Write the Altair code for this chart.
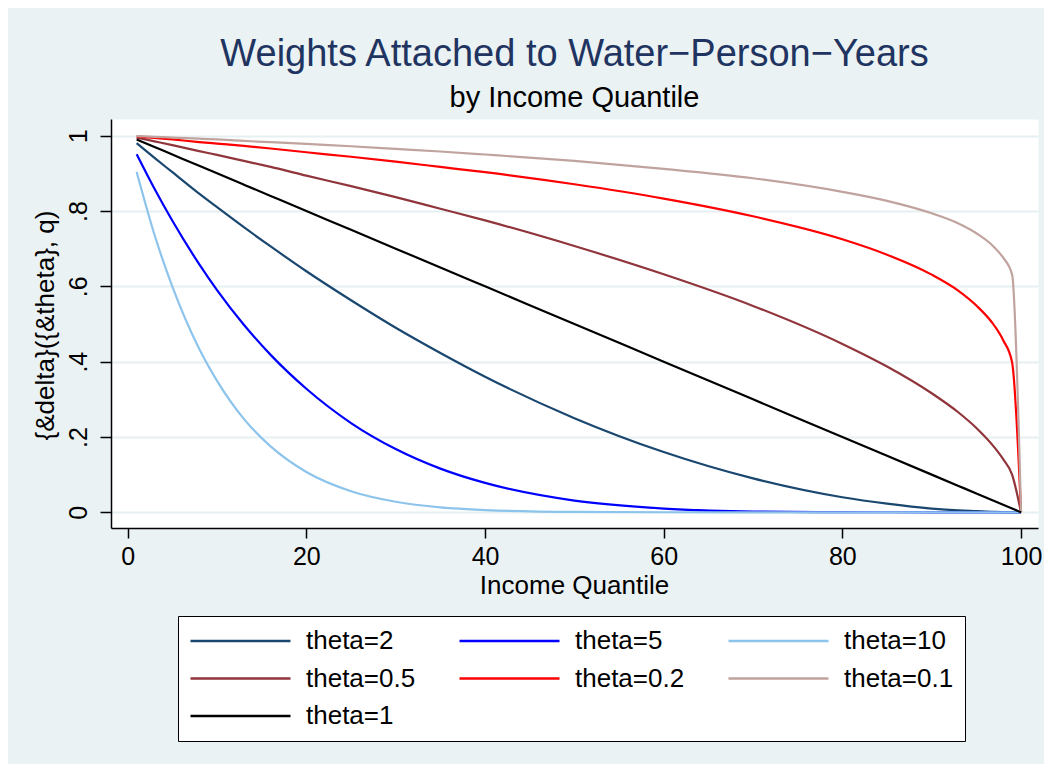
import altair as alt
import pandas as pd

# Income quantile positions at which values were read
quantile = [1, 3, 5, 8, 10, 13, 16, 20, 25, 30, 35, 40, 50, 60, 70, 80, 85, 90, 93, 95, 97, 98, 99, 100]

theta_2 = [0.980, 0.941, 0.903, 0.846, 0.810, 0.757, 0.706, 0.640, 0.563, 0.490, 0.423, 0.360,
           0.250, 0.160, 0.090, 0.040, 0.023, 0.010, 0.005, 0.003, 0.001, 0.0004, 0.0001, 0.0]
theta_5 = [0.951, 0.859, 0.774, 0.659, 0.590, 0.498, 0.418, 0.328, 0.237, 0.168, 0.116, 0.078,
           0.031, 0.010, 0.002, 0.0003, 0.0001, 0.0, 0.0, 0.0, 0.0, 0.0, 0.0, 0.0]
theta_10 = [0.904, 0.737, 0.599, 0.434, 0.349, 0.248, 0.175, 0.107, 0.056, 0.028, 0.013, 0.006,
            0.001, 0.0001, 0.0, 0.0, 0.0, 0.0, 0.0, 0.0, 0.0, 0.0, 0.0, 0.0]
theta_05 = [0.995, 0.985, 0.975, 0.959, 0.949, 0.933, 0.917, 0.894, 0.866, 0.837, 0.806, 0.775,
            0.707, 0.632, 0.548, 0.447, 0.387, 0.316, 0.265, 0.224, 0.173, 0.141, 0.100, 0.0]
theta_02 = [0.998, 0.994, 0.990, 0.983, 0.979, 0.973, 0.966, 0.956, 0.944, 0.931, 0.917, 0.903,
            0.871, 0.833, 0.786, 0.725, 0.684, 0.631, 0.588, 0.549, 0.496, 0.457, 0.398, 0.0]
theta_01 = [0.999, 0.997, 0.995, 0.992, 0.990, 0.986, 0.983, 0.978, 0.972, 0.965, 0.958, 0.950,
            0.933, 0.912, 0.887, 0.851, 0.827, 0.794, 0.767, 0.741, 0.704, 0.676, 0.631, 0.0]
theta_1 = [0.99, 0.97, 0.95, 0.92, 0.90, 0.87, 0.84, 0.80, 0.75, 0.70, 0.65, 0.60,
           0.50, 0.40, 0.30, 0.20, 0.15, 0.10, 0.07, 0.05, 0.03, 0.02, 0.01, 0.0]

series_names = ["theta=2", "theta=5", "theta=10", "theta=0.5", "theta=0.2", "theta=0.1", "theta=1"]
series_values = [theta_2, theta_5, theta_10, theta_05, theta_02, theta_01, theta_1]
series_colors = ["#1A476F", "#0000FF", "#8DC4EC", "#90353B", "#FF0000", "#C0A39E", "#000000"]

x_ticks = [0, 20, 40, 60, 80, 100]
y_ticks = [0, 0.2, 0.4, 0.6, 0.8, 1]

rows = []
for name, vals in zip(series_names, series_values):
    for q, v in zip(quantile, vals):
        rows.append({"series": name, "q": q, "w": v})
df = pd.DataFrame(rows)

FONT = "Liberation Sans"

chart = alt.Chart(df).mark_line(strokeWidth=2.2, interpolate="monotone").encode(
    x=alt.X("q:Q",
            scale=alt.Scale(domain=[-1.87, 101.9], nice=False, zero=False),
            axis=alt.Axis(values=x_ticks, format="d", grid=False,
                          labelFontSize=25, labelPadding=6, labelBaseline="top",
                          labelFlush=False, tickSize=10, tickWidth=1.5, tickColor="black",
                          domainColor="black", domainWidth=1.5, labelColor="black",
                          title="Income Quantile", titleFontSize=26, titleFontWeight="normal",
                          titleColor="black", titleX=463, titleY=65,
                          titleBaseline="alphabetic", titleAlign="center")),
    y=alt.Y("w:Q",
            scale=alt.Scale(domain=[-0.0417, 1.0443], nice=False, zero=False),
            axis=alt.Axis(values=y_ticks,
                          labelExpr="datum.value == 0 ? '0' : datum.value == 1 ? '1' : replace(format(datum.value, '.1f'), '0.', '.')",
                          labelAngle=270, labelAlign="center", labelBaseline="alphabetic",
                          labelPadding=14, labelFontSize=25, labelFlush=False, labelColor="black",
                          tickSize=11, tickWidth=1.5, tickColor="black",
                          domainColor="black", domainWidth=1.5,
                          grid=True, gridColor="#E6EFF1", gridWidth=2,
                          title="{&delta}({&theta}, q)", titleFontSize=26, titleFontWeight="normal",
                          titleColor="black", titleAngle=270, titleX=-58, titleY=206,
                          titleAlign="center", titleBaseline="alphabetic")),
    color=alt.Color("series:N",
                    scale=alt.Scale(domain=series_names, range=series_colors),
                    legend=alt.Legend(title=None, orient="none", legendX=67, legendY=497,
                                      direction="horizontal",
                                      columns=3, symbolType="stroke", symbolSize=10000,
                                      symbolStrokeWidth=2.5, labelFontSize=26, labelOffset=14,
                                      labelColor="black", columnPadding=42, rowPadding=9.5,
                                      clipHeight=28, padding=11, strokeColor="black",
                                      fillColor="white")),
    order=alt.Order("q:Q"),
).properties(
    width=927,
    height=409,
    padding={"left": 103, "top": 111, "right": 6, "bottom": 236},
    autosize=alt.AutoSizeParams(type="none"),
    title=alt.TitleParams(text="Weights Attached to Water\u2212Person\u2212Years",
                          subtitle="by Income Quantile",
                          fontSize=38, subtitleFontSize=29, fontWeight="normal",
                          color="#1F3461", subtitleColor="black",
                          font=FONT, subtitleFont=FONT, anchor="middle",
                          offset=6, subtitlePadding=10),
).configure(
    background="#EAF2F3",
    font=FONT,
).configure_view(
    fill="white", stroke="transparent"
)

chart.save("out.html", embed_options={"renderer": "svg", "actions": False})
